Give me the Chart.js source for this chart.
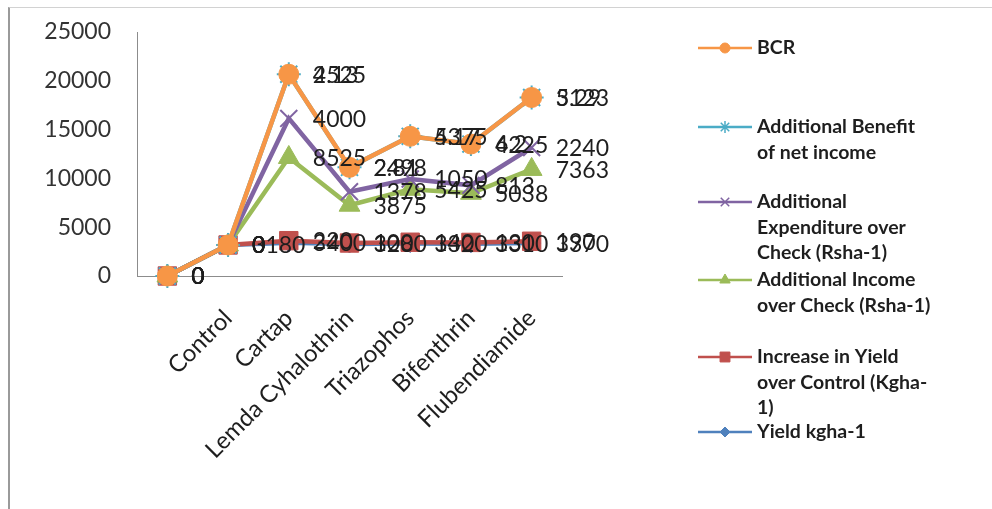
<!DOCTYPE html>
<html>
<head>
<meta charset="utf-8">
<script src="https://cdn.jsdelivr.net/npm/chart.js@4.4.1/dist/chart.umd.min.js"></script>
<style>
  html, body { margin: 0; padding: 0; background: #ffffff; }
  #wrap { position: relative; width: 992px; height: 509px; overflow: hidden; }
  #wrap canvas { position: absolute; left: 0; top: 0; }
  #frame { position: absolute; left: 8px; top: 7px; right: -4px; bottom: -4px;
           border-left: 2px solid #9a9a9a; border-top: 1px solid #d2d2d2; pointer-events: none; }
</style>
</head>
<body>
<div id="wrap">
  <canvas id="chart" width="992" height="509"></canvas>
  <div id="frame"></div>
</div>
<script>
// Treatments (the first slot is an unlabelled zero baseline)
const categories = ['', 'Control', 'Cartap', 'Lemda Cyhalothrin', 'Triazophos', 'Bifenthrin', 'Flubendiamide'];

// Series values per treatment
const yieldKgha             = [0, 3180, 3400, 3280, 3320, 3310, 3370];
const yieldIncrease         = [0, 0, 220, 100, 140, 130, 190];
const additionalIncome      = [0, 0, 8525, 3875, 5425, 5038, 7363];
const additionalExpenditure = [0, 0, 4000, 1378, 1050, 813, 2240];
const additionalBenefit     = [0, 0, 4525, 2498, 4375, 4225, 5123];
const bcr                   = [0, 0, 2.13, 2.81, 5.17, 6.2, 3.29];

// Value axis ticks
const yTicks = [0, 5000, 10000, 15000, 20000, 25000];

const FONT = 'Lato, "Open Sans", sans-serif';
const TEXT = '#1e1e1e';

// Series in stacking order (bottom first); legend text is wrapped as displayed
const series = [
  { name: 'Yield kgha-1', lines: ['Yield kgha-1'], data: yieldKgha,
    color: '#4F81BD', style: 'rectRot', radius: 9, legendRadius: 5, legendY: 432 },
  { name: 'Increase in Yield over Control (Kgha-1)', lines: ['Increase in Yield', 'over Control (Kgha-', '1)'], data: yieldIncrease,
    color: '#C0504D', style: 'rect', radius: 13, legendRadius: 7, legendY: 357 },
  { name: 'Additional Income over Check (Rsha-1)', lines: ['Additional Income', 'over Check (Rsha-1)'], data: additionalIncome,
    color: '#9BBB59', style: 'triangle', radius: 12, legendRadius: 6, legendY: 280 },
  { name: 'Additional Expenditure over Check (Rsha-1)', lines: ['Additional', 'Expenditure over', 'Check (Rsha-1)'], data: additionalExpenditure,
    color: '#8064A2', style: 'crossRot', radius: 12, legendRadius: 6, legendY: 202 },
  { name: 'Additional Benefit of net income', lines: ['Additional Benefit', 'of net income'], data: additionalBenefit,
    color: '#4BACC6', style: 'star', radius: 12, legendRadius: 6, legendY: 127 },
  { name: 'BCR', lines: ['BCR'], data: bcr,
    color: '#F79646', style: 'circle', radius: 10, legendRadius: 5, legendY: 48 }
];

const isStroke = s => s === 'crossRot' || s === 'star' || s === 'cross';

// Draw the stacked series bottom-first so the top series lies over the others
const layerOrder = {
  id: 'layerOrder',
  beforeDatasetsDraw(chart) {
    chart.data.datasets.forEach((ds, i) => {
      const meta = chart.getDatasetMeta(i);
      if (meta.visible) meta.controller.draw();
    });
    return false;
  }
};

// Each point's own value written to its right
const valueLabels = {
  id: 'valueLabels',
  afterDraw(chart) {
    const ctx = chart.ctx;
    ctx.save();
    ctx.font = '23px ' + FONT;
    ctx.fillStyle = TEXT;
    ctx.textAlign = 'left';
    ctx.textBaseline = 'middle';
    chart.data.datasets.forEach((ds, i) => {
      const meta = chart.getDatasetMeta(i);
      meta.data.forEach((pt, j) => {
        ctx.fillText(String(ds.data[j]), pt.x + 24, pt.y + 1);
      });
    });
    ctx.restore();
  }
};

// Legend on the right, top series first
const sideLegend = {
  id: 'sideLegend',
  afterDraw(chart) {
    const ctx = chart.ctx;
    const x0 = 698, x1 = 752, xm = 725, tx = 757, lh = 25.5;
    ctx.save();
    series.forEach(s => {
      const y = s.legendY;
      ctx.strokeStyle = s.color;
      ctx.lineWidth = 2.5;
      ctx.beginPath();
      ctx.moveTo(x0, y);
      ctx.lineTo(x1, y);
      ctx.stroke();
      ctx.fillStyle = s.color;
      ctx.strokeStyle = s.color;
      ctx.lineWidth = isStroke(s.style) ? 1.5 : 1;
      Chart.helpers.drawPoint(ctx, { pointStyle: s.style, radius: s.legendRadius, borderWidth: ctx.lineWidth, rotation: 0 }, xm, y);
      ctx.fillStyle = TEXT;
      ctx.font = 'bold 19.5px ' + FONT;
      ctx.textAlign = 'left';
      ctx.textBaseline = 'middle';
      s.lines.forEach((t, k) => ctx.fillText(t, tx, y + k * lh));
    });
    ctx.restore();
  }
};

new Chart(document.getElementById('chart'), {
  type: 'line',
  data: {
    labels: categories,
    datasets: series.map(s => ({
      label: s.name,
      data: s.data,
      borderColor: s.color,
      backgroundColor: s.color,
      borderWidth: 4.5,
      fill: false,
      tension: 0,
      clip: false,
      pointStyle: s.style,
      pointRadius: s.radius,
      pointBackgroundColor: s.color,
      pointBorderColor: s.color,
      pointBorderWidth: isStroke(s.style) ? 2 : 1
    }))
  },
  options: {
    responsive: false,
    animation: false,
    devicePixelRatio: 1,
    layout: { padding: { top: 32, left: 0, right: 430, bottom: 0 } },
    plugins: { legend: { display: false }, tooltip: { enabled: false } },
    scales: {
      x: {
        offset: true,
        grid: { display: false, drawTicks: false },
        border: { display: true, color: '#8c8c8c', width: 1 },
        ticks: { autoSkip: false, minRotation: 45, maxRotation: 45, padding: 28,
                 font: { family: FONT, size: 24 }, color: TEXT },
        afterFit(scale) { scale.height = 233; }
      },
      y: {
        stacked: true,
        min: 0,
        max: 25000,
        grid: { display: false, drawTicks: false },
        border: { display: true, color: '#8c8c8c', width: 1 },
        ticks: { padding: 26, font: { family: FONT, size: 23 }, color: '#333333',
                 callback: v => String(v) },
        afterBuildTicks(scale) { scale.ticks = yTicks.map(v => ({ value: v })); },
        afterFit(scale) {
          scale.width = 137;
          scale.paddingTop = 0;
          scale.paddingBottom = 0;
        }
      }
    }
  },
  plugins: [layerOrder, valueLabels, sideLegend]
});
</script>
</body>
</html>
